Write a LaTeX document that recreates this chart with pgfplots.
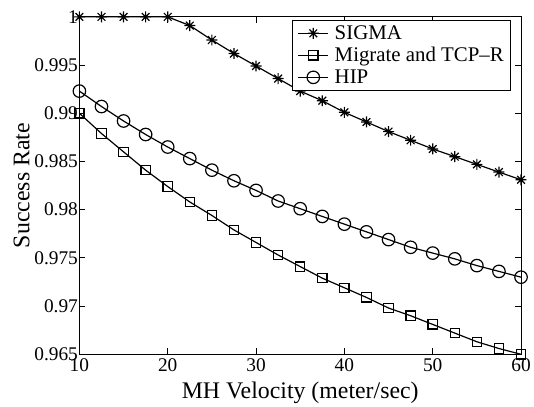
\documentclass[border=0pt]{standalone}
\usepackage{fontspec}
\setmainfont{Liberation Serif}
\usepackage{pgfplots}
\pgfplotsset{compat=1.18}

% MATLAB style '*' marker: a plus and a cross on top of each other
\pgfdeclareplotmark{mstar}{%
  \pgfpathmoveto{\pgfqpoint{-\pgfplotmarksize}{0pt}}%
  \pgfpathlineto{\pgfqpoint{\pgfplotmarksize}{0pt}}%
  \pgfpathmoveto{\pgfqpoint{0pt}{-\pgfplotmarksize}}%
  \pgfpathlineto{\pgfqpoint{0pt}{\pgfplotmarksize}}%
  \pgfpathmoveto{\pgfqpoint{-0.707\pgfplotmarksize}{-0.707\pgfplotmarksize}}%
  \pgfpathlineto{\pgfqpoint{0.707\pgfplotmarksize}{0.707\pgfplotmarksize}}%
  \pgfpathmoveto{\pgfqpoint{-0.707\pgfplotmarksize}{0.707\pgfplotmarksize}}%
  \pgfpathlineto{\pgfqpoint{0.707\pgfplotmarksize}{-0.707\pgfplotmarksize}}%
  \pgfusepathqstroke}

\pgfplotstableread{
x     sigma   migrate  hip
10    1.0000  0.9900   0.9923
12.5  1.0000  0.9879   0.9907
15    1.0000  0.9860   0.9892
17.5  1.0000  0.9841   0.9878
20    1.0000  0.9824   0.9865
22.5  0.9991  0.9808   0.9853
25    0.9976  0.9794   0.9841
27.5  0.9962  0.9779   0.9830
30    0.9949  0.9766   0.9820
32.5  0.9936  0.9753   0.9809
35    0.9923  0.9741   0.9801
37.5  0.9913  0.9729   0.9793
40    0.9901  0.9719   0.9785
42.5  0.9891  0.9709   0.9777
45    0.9881  0.9698   0.9769
47.5  0.9872  0.9690   0.9761
50    0.9863  0.9681   0.9755
52.5  0.9855  0.9672   0.9749
55    0.9847  0.9663   0.9742
57.5  0.9839  0.9656   0.9736
60    0.9831  0.9650   0.9730
}\datatable

\begin{document}
\begin{tikzpicture}
\begin{axis}[
    scale only axis,
    width=445bp, height=340bp,
    xmin=10, xmax=60,
    ymin=0.965, ymax=1,
    clip=false,
    xtick={10,20,30,40,50,60},
    ytick={0.965,0.97,0.975,0.98,0.985,0.99,0.995,1},
    yticklabels={0.965,0.97,0.975,0.98,0.985,0.99,0.995,1},
    /pgf/number format/assume math mode=true,
    tick align=inside,
    major tick length=6bp,
    tick style={line width=0.8bp, black},
    axis line style={line width=0.8bp},
    ticklabel style={font=\fontsize{19.5bp}{22bp}\selectfont},
    xticklabel style={yshift=-1bp},
    yticklabel style={xshift=2bp},
    xlabel={MH Velocity (meter/sec)},
    ylabel={Success Rate},
    label style={font=\fontsize{24bp}{28bp}\selectfont},
    xlabel style={yshift=-3bp},
    ylabel style={yshift=-2bp},
    legend cell align=left,
    legend style={at={(1,1)}, anchor=north east, xshift=-10bp, yshift=-3bp,
        draw=black, line width=0.8bp, inner xsep=5bp, inner ysep=3.5bp,
        row sep=2.5bp,
        font=\fontsize{21bp}{24bp}\selectfont},
    legend image code/.code={%
        \draw[mark repeat=2,mark phase=2,#1]
        plot coordinates {(0bp,0bp) (15bp,0bp) (30bp,0bp)};
        \path (34bp,0bp);},
    every axis plot/.append style={black, line width=1.2bp,
        mark options={solid, line width=1.2bp}},
]
\addplot[mark=mstar, mark size=5.5bp] table[x=x, y=sigma] {\datatable};
\addlegendentry{SIGMA}
\addplot[mark=square, mark size=4.7bp] table[x=x, y=migrate] {\datatable};
\addlegendentry{Migrate and TCP--R}
\addplot[mark=o, mark size=6.3bp] table[x=x, y=hip] {\datatable};
\addlegendentry{HIP}
\coordinate (bl) at (rel axis cs:0,0);
\coordinate (tr) at (rel axis cs:1,1);
\end{axis}
% page margins as in the reference figure
\path (bl) ++(-80bp,-51bp);
\path (tr) ++(9bp,17bp);
\end{tikzpicture}
\end{document}
